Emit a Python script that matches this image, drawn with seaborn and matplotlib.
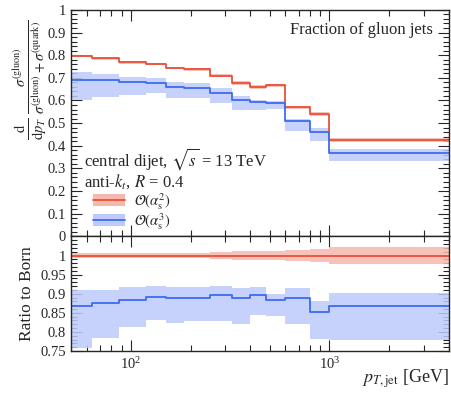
import numpy as np
import matplotlib
matplotlib.use("Agg")
from matplotlib import pyplot as plt
from matplotlib.ticker import MultipleLocator, FixedLocator, NullFormatter, LogLocator, FuncFormatter
from matplotlib.patches import Patch
from matplotlib.lines import Line2D
from matplotlib.legend_handler import HandlerTuple
import seaborn as sns

# pT bin edges [GeV]
edges = [50, 64, 87, 120, 150, 185, 250, 325, 400, 480, 600, 800, 1000, 4000]

# gluon fraction, LO (Born) and NLO
frac_lo = [0.796, 0.786, 0.768, 0.760, 0.742, 0.737, 0.709, 0.678, 0.658, 0.667, 0.569, 0.541, 0.427]
frac_nlo = [0.690, 0.689, 0.681, 0.676, 0.658, 0.654, 0.634, 0.602, 0.592, 0.587, 0.509, 0.462, 0.369]

# ratio to Born with scale bands
ratio_lo_up = [1.007, 1.007, 1.007, 1.007, 1.007, 1.007, 1.009, 1.013, 1.013, 1.011, 1.015, 1.016, 1.022]
ratio_lo_dn = [0.993, 0.993, 0.993, 0.993, 0.993, 0.993, 0.991, 0.987, 0.987, 0.989, 0.985, 0.984, 0.978]
ratio_nlo = [0.869, 0.875, 0.884, 0.891, 0.888, 0.890, 0.897, 0.889, 0.897, 0.884, 0.888, 0.853, 0.867]
ratio_nlo_up = [0.911, 0.911, 0.917, 0.919, 0.917, 0.917, 0.921, 0.914, 0.918, 0.899, 0.914, 0.881, 0.902]
ratio_nlo_dn = [0.759, 0.783, 0.812, 0.832, 0.823, 0.829, 0.829, 0.821, 0.845, 0.843, 0.821, 0.781, 0.779]

red, red_band = "#ea4f3a", "#f7b8ad"
blue, blue_band = "#3d6cf0", "#bccbfb"

sns.set_style("ticks")
plt.rcParams["font.family"] = ["Liberation Serif", "DejaVu Serif"]
plt.rcParams["mathtext.fontset"] = "stix"

fig = plt.figure(figsize=(4.52, 3.94), dpi=100)
ax1 = fig.add_axes([0.157, 0.400, 0.836, 0.575])
ax2 = fig.add_axes([0.157, 0.109, 0.836, 0.291], sharex=ax1)

ext = lambda v: np.append(v, v[-1])
lo = np.array(frac_lo)


def band(ax, lo_v, hi_v, c):
    ax.fill_between(edges, ext(lo_v), ext(hi_v), step="post", color=c, lw=0, alpha=0.85)


def step(ax, v, c):
    sns.lineplot(x=edges, y=ext(v), drawstyle="steps-post", color=c, lw=1.3, ax=ax,
                 estimator=None, sort=False)


# upper panel
band(ax1, lo * np.array(ratio_lo_dn), lo * np.array(ratio_lo_up), red_band)
band(ax1, lo * np.array(ratio_nlo_dn), lo * np.array(ratio_nlo_up), blue_band)
step(ax1, frac_lo, red)
step(ax1, frac_nlo, blue)

# lower panel
band(ax2, ratio_lo_dn, ratio_lo_up, red_band)
band(ax2, ratio_nlo_dn, ratio_nlo_up, blue_band)
step(ax2, [1.0] * len(frac_lo), red)
step(ax2, ratio_nlo, blue)

ax1.set_xscale("log")
ax1.set_xlim(50, 4000)
ax1.set_ylim(0, 1)
ax2.set_ylim(0.75, 1.05)

fmt = FuncFormatter(lambda v, p: "%g" % round(v, 3))
ax1.yaxis.set_major_locator(MultipleLocator(0.1))
ax1.yaxis.set_minor_locator(MultipleLocator(0.02))
ax2.yaxis.set_major_locator(FixedLocator([0.75, 0.8, 0.85, 0.9, 0.95, 1.0]))
ax2.yaxis.set_minor_locator(MultipleLocator(0.01))
ax1.yaxis.set_major_formatter(fmt)
ax2.yaxis.set_major_formatter(fmt)

for ax in (ax1, ax2):
    ax.xaxis.set_major_locator(LogLocator(base=10))
    ax.xaxis.set_minor_locator(LogLocator(base=10, subs=np.arange(2, 10)))
    ax.xaxis.set_minor_formatter(NullFormatter())
    ax.tick_params(which="both", direction="in", top=True, right=True, labelsize=10.5, width=0.8)
    ax.tick_params(which="major", length=8)
    ax.tick_params(which="minor", length=4)
    for s in ax.spines.values():
        s.set_linewidth(1.0)
plt.setp(ax1.get_xticklabels(), visible=False)

ax1.set_ylabel(r"$\frac{\mathrm{d}}{\mathrm{d}p_T}\,\frac{\sigma^{(\mathrm{gluon})}}"
               r"{\sigma^{(\mathrm{gluon})}+\sigma^{(\mathrm{quark})}}$", fontsize=15)
ax2.set_ylabel("Ratio to Born", fontsize=12.5)
ax1.yaxis.set_label_coords(-0.058, 0.69)
ax2.yaxis.set_label_coords(-0.095, 0.5)
fig.text(0.993, 0.03, r"$p_{T,\mathrm{jet}}$ [GeV]", fontsize=13, ha="right", va="baseline")

ax1.text(0.958, 0.91, "Fraction of gluon jets", transform=ax1.transAxes, ha="right",
         va="center", fontsize=12)
ax1.text(0.035, 0.30, "central dijet, $\\sqrt{s}$ = 13 TeV\nanti-$k_t$, $R$ = 0.4",
         transform=ax1.transAxes, fontsize=12, va="center", linespacing=1.05)

handles = [
    (Patch(color=red_band, lw=0), Line2D([], [], color=red, lw=1.3)),
    (Patch(color=blue_band, lw=0), Line2D([], [], color=blue, lw=1.3)),
]
labels = [r"$\mathcal{O}(\alpha_\mathrm{s}^2)$", r"$\mathcal{O}(\alpha_\mathrm{s}^3)$"]
ax1.legend(handles, labels, handler_map={tuple: HandlerTuple(ndivide=1)},
           loc="upper left", bbox_to_anchor=(0.035, 0.24), frameon=False, fontsize=10.5,
           handlelength=2.2, handleheight=0.9, labelspacing=-0.05, borderpad=0.1,
           handletextpad=0.6)

fig.savefig("out.png", dpi=100)
